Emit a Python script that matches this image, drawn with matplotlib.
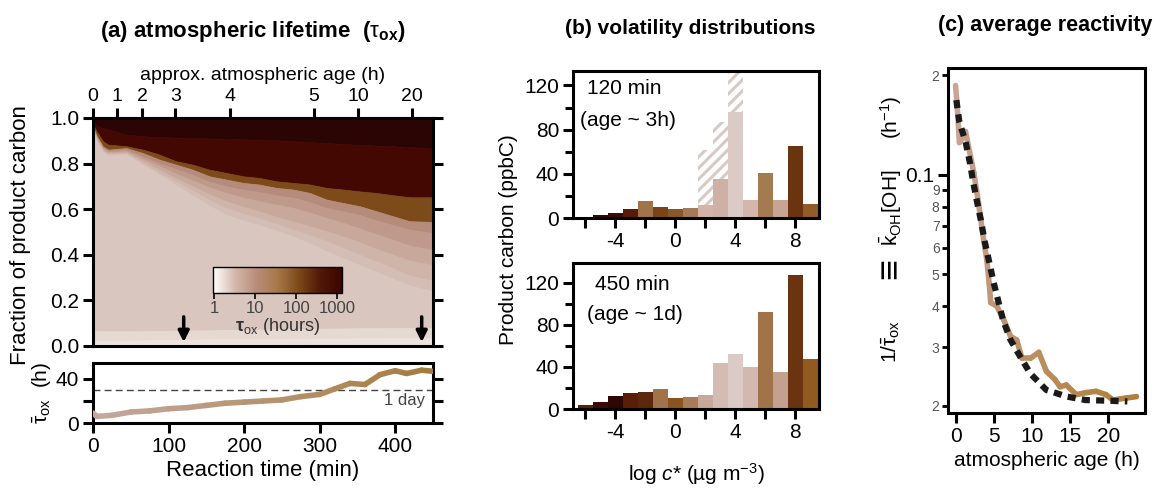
import numpy as np
import matplotlib
matplotlib.use("Agg")
import matplotlib as mpl
import matplotlib.pyplot as plt
from matplotlib.colors import LinearSegmentedColormap, LogNorm
from matplotlib.collections import LineCollection

plt.rcParams['font.family'] = ['Liberation Sans', 'DejaVu Sans']
plt.rcParams['mathtext.fontset'] = 'custom'
plt.rcParams['mathtext.rm'] = 'Liberation Sans'
plt.rcParams['mathtext.it'] = 'Liberation Sans:italic'
plt.rcParams['mathtext.bf'] = 'Liberation Sans:bold'
plt.rcParams['hatch.linewidth'] = 2.2
plt.rcParams['axes.linewidth'] = 2.2

# ---------------- data ----------------
# (a) cumulative fraction of product carbon, band boundaries from top to bottom
t_min = [0, 5, 13, 20, 44, 66, 88, 110, 132, 154, 176, 199, 220, 243, 265, 287, 309, 331, 353, 375, 397, 419, 450]
b_top = [0.985, 0.965, 0.955, 0.95, 0.927, 0.92, 0.916, 0.914, 0.912, 0.91, 0.908, 0.906, 0.905, 0.902,
         0.898, 0.894, 0.89, 0.886, 0.882, 0.879, 0.876, 0.872, 0.868]
b_maroon = [0.97, 0.94, 0.898, 0.883, 0.876, 0.861, 0.839, 0.81, 0.795, 0.773, 0.759, 0.744, 0.737, 0.722,
            0.715, 0.708, 0.693, 0.686, 0.678, 0.671, 0.661, 0.652, 0.652]
b_brown = [0.96, 0.92, 0.875, 0.861, 0.868, 0.846, 0.817, 0.795, 0.773, 0.744, 0.73, 0.715, 0.708, 0.693,
           0.686, 0.671, 0.642, 0.627, 0.613, 0.591, 0.569, 0.547, 0.544]
b_l1 = [0.955, 0.915, 0.87, 0.855, 0.86, 0.83, 0.80, 0.775, 0.75, 0.72, 0.70, 0.685, 0.675, 0.66, 0.65,
        0.63, 0.605, 0.59, 0.575, 0.55, 0.53, 0.51, 0.495]
b_l2 = [0.95, 0.91, 0.865, 0.85, 0.854, 0.82, 0.788, 0.755, 0.725, 0.695, 0.671, 0.65, 0.635, 0.62, 0.605,
        0.585, 0.561, 0.54, 0.515, 0.49, 0.465, 0.44, 0.42]
b_l3 = [0.945, 0.905, 0.86, 0.845, 0.849, 0.81, 0.773, 0.735, 0.70, 0.665, 0.635, 0.61, 0.59, 0.565, 0.545,
        0.525, 0.503, 0.48, 0.455, 0.425, 0.40, 0.375, 0.355]
b_l4 = [0.94, 0.90, 0.855, 0.84, 0.845, 0.80, 0.76, 0.72, 0.68, 0.64, 0.605, 0.58, 0.56, 0.535, 0.51,
        0.485, 0.459, 0.43, 0.40, 0.37, 0.34, 0.31, 0.285]
b_l5 = [0.935, 0.895, 0.85, 0.835, 0.84, 0.795, 0.75, 0.705, 0.66, 0.615, 0.576, 0.55, 0.53, 0.505, 0.48,
        0.45, 0.415, 0.385, 0.355, 0.325, 0.295, 0.265, 0.24]
b_low = [0.065, 0.065, 0.064, 0.064, 0.064, 0.065, 0.066, 0.067, 0.068, 0.069, 0.07, 0.071, 0.072, 0.073,
         0.074, 0.075, 0.076, 0.077, 0.078, 0.078, 0.079, 0.079, 0.08]
b_floor = [0.022, 0.022, 0.022, 0.023, 0.024, 0.025, 0.026, 0.027, 0.028, 0.029, 0.03, 0.03, 0.031, 0.031,
           0.032, 0.032, 0.033, 0.033, 0.034, 0.034, 0.035, 0.035, 0.035]

age_tick_min = [0, 32, 65, 109, 181, 292, 351, 422]
age_tick_labels = ["0", "1", "2", "3", "4", "5", "10", "20"]
snapshot_min = [120, 435]

# (a) lower: mean lifetime
t_low = [0, 5, 25, 50, 75, 100, 125, 150, 175, 200, 225, 250, 275, 300, 320, 340, 360, 380, 400, 415, 435, 450]
tau_mean = [9, 6, 7, 10, 11, 13, 14, 16, 18, 19, 20, 21, 24, 26, 31, 36, 35, 44, 47.5, 45, 48, 47]
one_day = 30

# (b) volatility distributions
logc_bins = [-6, -5, -4, -3, -2, -1, 0, 1, 2, 3, 4, 5, 6, 7, 8, 9]
carbon_120 = [1, 3, 5, 8, 15, 10, 8, 9, 12, 35, 96, 16, 41, 16, 65, 13]
hatched_bins = [2, 3, 4]
hatched_120 = [62, 87, 140]
carbon_450 = [4, 7, 12, 15, 16, 19, 10, 11, 13, 44, 52, 40, 92, 35, 128, 48]

# (c) average reactivity
age_obs = [0.0, 0.3, 0.5, 1.0, 1.3, 2.4, 3.0, 3.7, 4.1, 4.4, 4.6, 5.4, 6.3, 7.2, 8.0, 8.7, 9.8,
           10.9, 11.9, 13.0, 13.7, 14.5, 15.8, 17.1, 18.4, 19.7, 20.6, 22.4, 23.7]
inv_obs = [0.186, 0.15, 0.125, 0.13, 0.135, 0.101, 0.082, 0.063, 0.055, 0.047, 0.041, 0.040, 0.0364,
           0.0324, 0.0316, 0.0278, 0.0278, 0.0290, 0.0254, 0.024, 0.0228, 0.0231, 0.0216, 0.0219,
           0.0221, 0.0216, 0.0208, 0.0211, 0.0213]
age_fit = [0.1, 0.5, 1.3, 1.9, 2.3, 2.8, 3.3, 3.8, 5.0, 6.2, 7.2, 8.6, 9.8, 11.9, 14.6, 17.0, 20.0, 22.5]
inv_fit = [0.168, 0.144, 0.126, 0.108, 0.095, 0.083, 0.073, 0.063, 0.047, 0.0364, 0.0316, 0.0278,
           0.0250, 0.0223, 0.0213, 0.0208, 0.0207, 0.0206]

# ---------------- styles ----------------
band_colors = ["#2a0504", "#430802", "#7d4b19", "#b58c7c", "#bf9a8c", "#c8a89b",
               "#cfb4a9", "#d4bdb4", "#d9c6be", "#e5d9d2", "#ede3dd"]
cbar_cmap = LinearSegmentedColormap.from_list(
    "tau", ["#ffffff", "#d4b8ac", "#b88e7a", "#a8784a", "#7c4818", "#501808", "#3c0600"])
colors_120 = ["#3a0808", "#3a0505", "#3c0a08", "#5a1a0a", "#a07448", "#7a4418", "#8a5828", "#a47a58",
              "#d4b4a8", "#ceb0a6", "#dccac6", "#d4b6ac", "#a47a50", "#c8a494", "#6a3410", "#905c28"]
colors_450 = ["#5a200a", "#3c0a06", "#2e0604", "#5a1e08", "#5c280c", "#a07448", "#8a5420", "#a87c58",
              "#c8a898", "#d4bcb4", "#dccac6", "#d2b8b0", "#a07448", "#c4a090", "#6a3410", "#905a20"]

FS = 15


def gradient_line(ax, x, y, c0, c1, lw):
    pts = np.column_stack([x, y]).reshape(-1, 1, 2)
    segs = np.concatenate([pts[:-1], pts[1:]], axis=1)
    cmap = LinearSegmentedColormap.from_list("g", [c0, c1])
    lc = LineCollection(segs, colors=cmap(np.linspace(0, 1, len(segs))), linewidths=lw,
                        capstyle="round", joinstyle="round", zorder=3)
    ax.add_collection(lc)


def style_ticks(ax):
    ax.tick_params(which="major", direction="out", width=2.2, length=7, labelsize=FS, pad=3)
    ax.tick_params(which="minor", direction="out", width=2.2, length=5)


fig = plt.figure(figsize=(11.6, 4.9), dpi=100)

# ---------------- panel (a) ----------------
ax_a = fig.add_axes([0.0802, 0.2939, 0.2931, 0.4653])
bounds = [np.ones(len(t_min)), b_top, b_maroon, b_brown, b_l1, b_l2, b_l3, b_l4, b_l5, b_low, b_floor,
          np.zeros(len(t_min))]
for i in range(len(bounds) - 1):
    ax_a.fill_between(t_min, bounds[i + 1], bounds[i], facecolor=band_colors[i],
                      edgecolor=band_colors[i], lw=0.6)
ax_a.set_xlim(0, 450)
ax_a.set_ylim(0, 1)
ax_a.set_yticks([0, 0.2, 0.4, 0.6, 0.8, 1.0], ["0.0", "0.2", "0.4", "0.6", "0.8", "1.0"])
style_ticks(ax_a)
ax_a.tick_params(bottom=False, labelbottom=False, right=True)
for t in snapshot_min:
    ax_a.annotate("", xy=(t, 0.005), xytext=(t, 0.14),
                  arrowprops=dict(arrowstyle="-|>", color="black", lw=2.5, mutation_scale=16))
sec = ax_a.secondary_xaxis("top")
sec.set_xticks(age_tick_min, age_tick_labels)
sec.tick_params(direction="out", width=2.2, length=7, labelsize=14, pad=2)
sec.set_xlabel("approx. atmospheric age (h)", fontsize=14, labelpad=6)

cax = fig.add_axes([0.1836, 0.402, 0.1112, 0.053])
cb = mpl.colorbar.ColorbarBase(cax, cmap=cbar_cmap, norm=LogNorm(0.95, 1300), orientation="horizontal")
cb.set_ticks([1, 10, 100, 1000], labels=["1", "10", "100", "1000"])
cax.tick_params(which="both", direction="out", labelsize=12, labelcolor="#444444", length=4, width=1.2, pad=2)
cax.tick_params(which="minor", length=3)
cb.outline.set_linewidth(1.0)
cb.set_label(r"$\mathbf{\tau}_{\mathrm{ox}}$ (hours)", fontsize=13, color="#333333", labelpad=0)

ax_l = fig.add_axes([0.0802, 0.1367, 0.2931, 0.1224])
gradient_line(ax_l, t_low, tau_mean, "#c6aaa2", "#a47c3c", 4.0)
ax_l.axhline(one_day, color="#444444", lw=1.0, ls=(0, (5, 3)))
ax_l.text(440, one_day - 3, "1 day", ha="right", va="top", fontsize=12, color="#444444")
ax_l.set_xlim(0, 450)
ax_l.set_ylim(0, 54.5)
ax_l.set_yticks([0, 20, 40], ["0", "", "40"])
ax_l.set_xticks([0, 100, 200, 300, 400])
style_ticks(ax_l)
ax_l.tick_params(right=True)
ax_l.set_xlabel("Reaction time (min)", fontsize=16, labelpad=3)
fig.text(0.036, 1 - 393 / 490, r"$\bar{\mathrm{\tau}}_{\mathrm{ox}}$  (h)", rotation=90, ha="center",
         va="center", fontsize=FS)
fig.text(0.018, 1 - 235 / 490, "Fraction of product carbon", rotation=90, ha="center", va="center", fontsize=16)
fig.text(253 / 1160, 1 - 32 / 490, r"(a) atmospheric lifetime  ($\mathrm{\tau}_{\mathbf{ox}}$)",
         ha="center", va="center", fontsize=16, fontweight="bold")

# ---------------- panel (b) ----------------
ax_b1 = fig.add_axes([0.494, 0.555, 0.2121, 0.300])
ax_b1.bar(hatched_bins, hatched_120, width=1.0, facecolor="white", edgecolor="#d6cac4",
          hatch="///", linewidth=0, zorder=1)
ax_b1.bar(logc_bins, carbon_120, width=1.0, color=colors_120, linewidth=0, zorder=2)
ax_b1.set_ylim(0, 133)
ax_b1.text(0.21, 0.88, "120 min", transform=ax_b1.transAxes, ha="center", va="center", fontsize=FS)
ax_b1.text(0.225, 0.665, "(age ~ 3h)", transform=ax_b1.transAxes, ha="center", va="center", fontsize=FS)

ax_b2 = fig.add_axes([0.494, 0.1653, 0.2121, 0.298])
ax_b2.bar(logc_bins, carbon_450, width=1.0, color=colors_450, linewidth=0, zorder=2)
ax_b2.set_ylim(0, 139)
ax_b2.text(0.24, 0.85, "450 min", transform=ax_b2.transAxes, ha="center", va="center", fontsize=FS)
ax_b2.text(0.25, 0.65, "(age ~ 1d)", transform=ax_b2.transAxes, ha="center", va="center", fontsize=FS)

for ax in (ax_b1, ax_b2):
    ax.set_xlim(-6.8, 9.6)
    ax.set_xticks([-6, -4, -2, 0, 2, 4, 6, 8], ["", "-4", "", "0", "", "4", "", "8"])
    ax.set_yticks([0, 40, 80, 120])
    ax.set_yticks([20, 60, 100], minor=True)
    style_ticks(ax)
    ax.tick_params(which="minor", length=6)

ax_b2.set_xlabel(r"log $c$* (µg m$^{-3}$)", fontsize=15, labelpad=14)
fig.text(509 / 1160, 1 - 240 / 490, "Product carbon (ppbC)", rotation=90, ha="center", va="center", fontsize=FS)
fig.text(690 / 1160, 1 - 29 / 490, "(b) volatility distributions", ha="center", va="center",
         fontsize=15, fontweight="bold")

# ---------------- panel (c) ----------------
ax_c = fig.add_axes([0.8172, 0.1571, 0.1698, 0.704])
ax_c.set_yscale("log")
gradient_line(ax_c, age_obs, inv_obs, "#caa496", "#b0803c", 4.0)
ax_c.plot(age_fit, inv_fit, color="#1a1a1a", lw=4.5, ls=(0, (1.3, 1.0)), zorder=4)
ax_c.set_xlim(-1, 24.8)
ax_c.set_ylim(0.019, 0.21)
ax_c.set_xticks([0, 5, 10, 15, 20])
ax_c.set_yticks([0.1], ["0.1"])
minor_vals = [0.02, 0.03, 0.04, 0.05, 0.06, 0.07, 0.08, 0.09, 0.2]
ax_c.set_yticks(minor_vals, ["2", "3", "4", "5", "6", "7", "8", "9", "2"], minor=True)
style_ticks(ax_c)
ax_c.tick_params(which="minor", length=4, width=2.0, labelsize=10, labelcolor="#555555", pad=2)
ax_c.set_xlabel("atmospheric age (h)", fontsize=15, labelpad=4)

ylab_x = 891 / 1160
fig.text(ylab_x, 1 - 117 / 490, r"(h$^{-1}$)", rotation=90, ha="center", va="center", fontsize=FS)
fig.text(ylab_x, 1 - 208 / 490, r"$\bar{\mathrm{k}}_{\mathrm{OH}}$[OH]", rotation=90, ha="center",
         va="center", fontsize=FS)
fig.text(ylab_x, 1 - 268 / 490, "≡", rotation=90, ha="center", va="center", fontsize=26)
fig.text(ylab_x, 1 - 341 / 490, r"1/$\bar{\mathrm{\tau}}_{\mathrm{ox}}$", rotation=90, ha="center",
         va="center", fontsize=FS)
fig.text(1045 / 1160, 1 - 25 / 490, "(c) average reactivity", ha="center", va="center",
         fontsize=15.5, fontweight="bold")

fig.savefig("out.png", dpi=100)
